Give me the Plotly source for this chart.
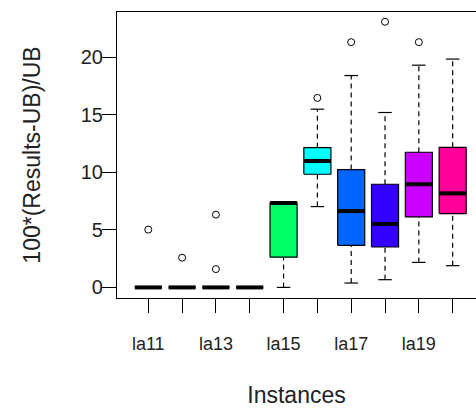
import plotly.graph_objects as go

categories = ["la11", "la12", "la13", "la14", "la15", "la16", "la17", "la18", "la19", "la20"]
q1 = [0, 0, 0, 0, 2.63, 9.83, 3.65, 3.51, 6.12, 6.41]
median = [0, 0, 0, 0, 7.33, 10.98, 6.63, 5.51, 8.96, 8.17]
q3 = [0, 0, 0, 0, 7.33, 12.14, 10.23, 8.96, 11.74, 12.17]
lower_whisker = [0, 0, 0, 0, 0, 7.02, 0.38, 0.67, 2.17, 1.89]
upper_whisker = [0, 0, 0, 0, 7.33, 15.48, 18.4, 15.19, 19.3, 19.83]
outliers = [[5.02], [2.58], [6.32, 1.59], [], [], [16.46], [21.3], [23.07], [21.3], []]
colors = ["#FF0000", "#FF9900", "#CCFF00", "#33FF00", "#00FF66",
          "#00FFFF", "#0066FF", "#3300FF", "#CC00FF", "#FF0099"]
tick_labels = ["la11", "", "la13", "", "la15", "", "la17", "", "la19", ""]

BOX_HALF = 0.4
CAP_HALF = 0.2
FONT = "Liberation Sans, Arial, sans-serif"

fig = go.Figure()
positions = list(range(1, len(categories) + 1))

# whiskers (dashed) and caps
wx, wy, cx, cy = [], [], [], []
for i, p in enumerate(positions):
    wx += [p, p, None, p, p, None]
    wy += [lower_whisker[i], q1[i], None, q3[i], upper_whisker[i], None]
    cx += [p - CAP_HALF, p + CAP_HALF, None, p - CAP_HALF, p + CAP_HALF, None]
    cy += [lower_whisker[i], lower_whisker[i], None, upper_whisker[i], upper_whisker[i], None]
fig.add_trace(go.Scatter(x=wx, y=wy, mode="lines", line=dict(color="black", width=1.2, dash="5px,4px"),
                         hoverinfo="skip", showlegend=False))
fig.add_trace(go.Scatter(x=cx, y=cy, mode="lines", line=dict(color="black", width=1.2),
                         hoverinfo="skip", showlegend=False))

# boxes
for i, p in enumerate(positions):
    fig.add_trace(go.Scatter(
        x=[p - BOX_HALF, p + BOX_HALF, p + BOX_HALF, p - BOX_HALF, p - BOX_HALF],
        y=[q1[i], q1[i], q3[i], q3[i], q1[i]],
        mode="lines", fill="toself", fillcolor=colors[i],
        line=dict(color="black", width=1.2), name=categories[i], showlegend=False))

# medians
mx, my = [], []
for i, p in enumerate(positions):
    mx += [p - BOX_HALF, p + BOX_HALF, None]
    my += [median[i], median[i], None]
fig.add_trace(go.Scatter(x=mx, y=my, mode="lines", line=dict(color="black", width=4),
                         hoverinfo="skip", showlegend=False))

# outliers
ox, oy = [], []
for i, p in enumerate(positions):
    for v in outliers[i]:
        ox.append(p)
        oy.append(v)
fig.add_trace(go.Scatter(x=ox, y=oy, mode="markers",
                         marker=dict(symbol="circle-open", size=7, color="black", line=dict(width=1)),
                         showlegend=False))

fig.update_layout(
    width=476, height=408,
    margin=dict(l=117, r=0, t=12, b=110),
    paper_bgcolor="white", plot_bgcolor="white",
    font=dict(family=FONT, size=19, color="#222222"),
    showlegend=False,
)
fig.update_xaxes(
    range=[0.075, 10.69], tickmode="array", tickvals=positions, ticktext=tick_labels,
    showgrid=False, zeroline=False, showline=True, linecolor="black", linewidth=1.2, mirror=True,
    ticks="outside", ticklen=14, tickcolor="black", tickwidth=1.2,
    tickfont=dict(size=18), ticklabelstandoff=15,
    title=dict(text="Instances", font=dict(size=23), standoff=34),
)
fig.update_yaxes(
    range=[-0.92, 23.92], tickmode="array", tickvals=[0, 5, 10, 15, 20],
    showgrid=False, zeroline=False, showline=True, linecolor="black", linewidth=1.2, mirror=False,
    ticks="outside", ticklen=14, tickcolor="black", tickwidth=1.2,
    tickfont=dict(size=20), ticklabelstandoff=-5,
    title=dict(text="100*(Results-UB)/UB", font=dict(size=23), standoff=33),
)

fig.write_html("out.html", config={"displayModeBar": False})
